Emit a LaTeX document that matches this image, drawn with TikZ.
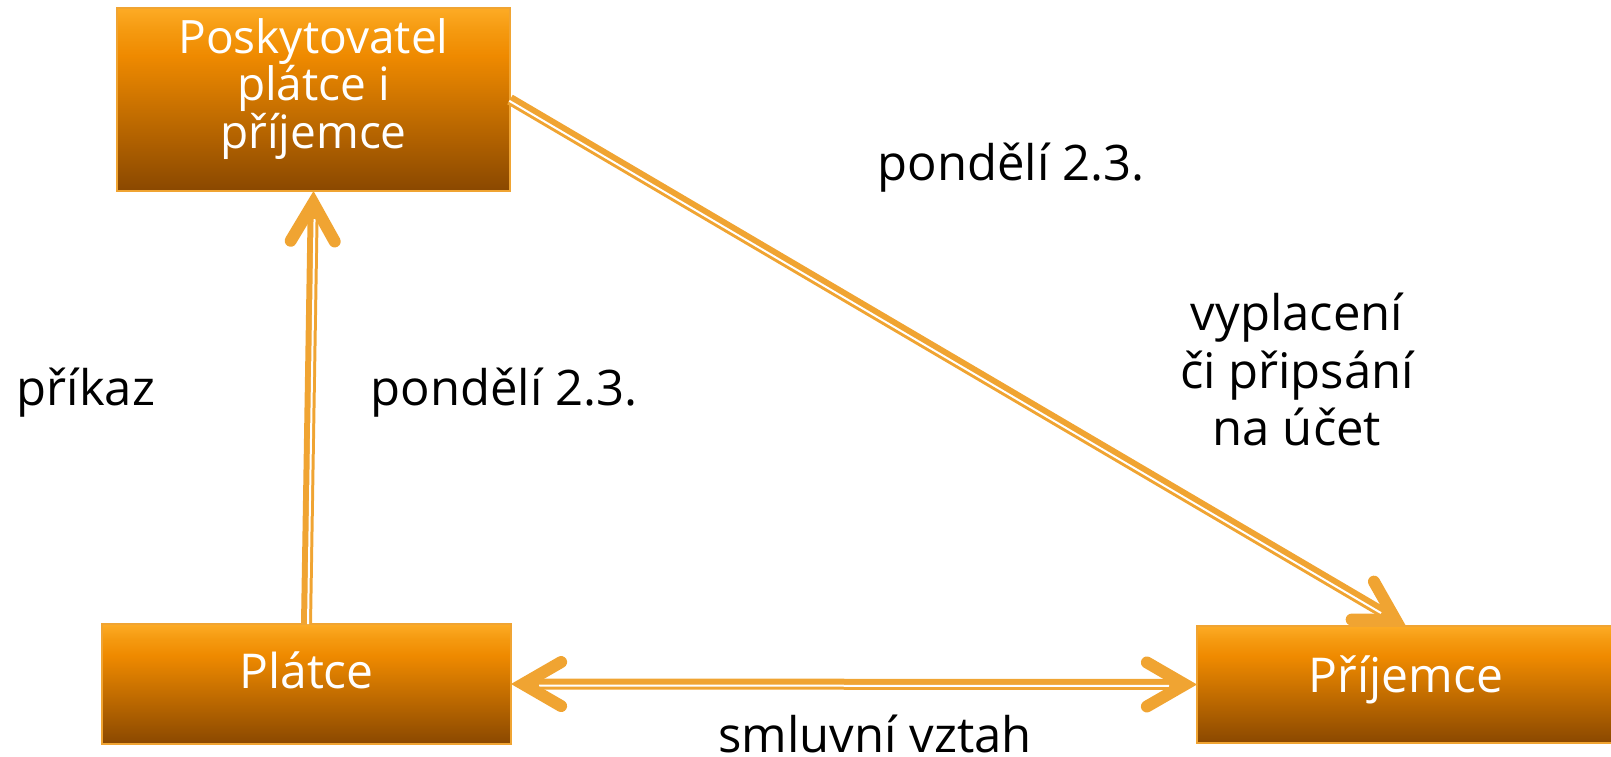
\documentclass[tikz,border=0pt]{standalone}
\usepackage{fontspec}
\setmainfont{Open Sans}
\usetikzlibrary{calc}
\definecolor{arrowc}{RGB}{240,164,50}
\definecolor{gtop}{RGB}{253,171,37}
\definecolor{gup}{RGB}{245,154,16}
\definecolor{gmid}{RGB}{239,138,0}
\definecolor{gbot}{RGB}{138,72,0}
\pgfdeclareverticalshading{boxshade}{100bp}{color(0bp)=(gbot); color(25bp)=(gbot); color(62bp)=(gmid); color(69bp)=(gup); color(75bp)=(gtop); color(100bp)=(gtop)}
\tikzset{
  box/.style={rectangle, draw=arrowc, line width=2pt, shading=boxshade, text=white, inner sep=0pt, outer sep=0pt},
  conn/.style={draw=arrowc, line width=11pt},
  gapline/.style={draw=white, line width=2pt},
  chev/.style={draw=arrowc, line width=12pt, line cap=round, line join=miter},
  lab/.style={text=black, inner sep=0pt, font=\fontsize{49}{57}\selectfont}
}
\begin{document}
\begin{tikzpicture}[x=1pt,y=-1pt]
\useasboundingbox (0,0) rectangle (1611,757);
\clip (0,0) rectangle (1611,757);
% boxes
\node[box, minimum width=393pt, minimum height=183pt, align=center,
      font=\fontsize{46}{42.5}\selectfont, text height=120pt, text depth=23pt]
      (pv) at (313.5,99.5) {Poskytovatel\\plátce i\\příjemce};
\node[box, minimum width=409pt, minimum height=120pt,
      font=\fontsize{48}{50}\selectfont, text height=30pt, text depth=22pt]
      (pl) at (306.5,684) {Plátce};
\node[box, minimum width=418pt, minimum height=117pt,
      font=\fontsize{48}{50}\selectfont, text height=30pt, text depth=15pt]
      (pr) at (1406,684.5) {Příjemce};
% labels
\node[lab, anchor=base] (l1) at (1011,180) {pondělí 2.3.};
\node[lab, anchor=base] (l2) at (86,405) {příkaz};
\node[lab, anchor=base] (l3) at (504,405) {pondělí 2.3.};
\node[lab, anchor=base] (l4) at (1297,330) {vyplacení};
\node[lab, anchor=base] (l5) at (1297,388) {či připsání};
\node[lab, anchor=base] (l6) at (1297,445) {na účet};
\node[lab, anchor=base] (l7) at (875,752) {smluvní vztah};
% vertical connector Plátce -> Poskytovatel
\draw[conn, shorten >=10pt] (pl.north) -- (pv.south);
\draw[gapline, shorten >=28pt] ($(pl.north)!1.5pt!-90:(pv.south)$) -- ($(pv.south)!1.5pt!90:(pl.north)$);
\coordinate (v1) at ($(pv.south)!12pt!(pl.north)$);
\draw[chev] ($(v1)!44pt!30:(pl.north)$) -- (v1) -- ($(v1)!44pt!-30:(pl.north)$);
% horizontal connector Plátce <-> Příjemce
\draw[conn, shorten <=10pt, shorten >=10pt] (pl.east) -- (pr.west);
\draw[gapline, shorten <=28pt, shorten >=28pt] ($(pl.east)!1.5pt!-90:(pr.west)$) -- ($(pr.west)!1.5pt!90:(pl.east)$);
\coordinate (h1) at ($(pr.west)!12pt!(pl.east)$);
\draw[chev] ($(h1)!44pt!30:(pl.east)$) -- (h1) -- ($(h1)!44pt!-30:(pl.east)$);
\coordinate (h2) at ($(pl.east)!12pt!(pr.west)$);
\draw[chev] ($(h2)!44pt!30:(pr.west)$) -- (h2) -- ($(h2)!44pt!-30:(pr.west)$);
% diagonal connector Poskytovatel -> Příjemce
\draw[conn, shorten >=10pt] (pv.east) -- (pr.north);
\draw[gapline, shorten >=28pt] ($(pv.east)!1.5pt!-90:(pr.north)$) -- ($(pr.north)!1.5pt!90:(pv.east)$);
\coordinate (d1) at ($(pr.north)!12pt!(pv.east)$);
\draw[chev] ($(d1)!44pt!30:(pv.east)$) -- (d1) -- ($(d1)!44pt!-30:(pv.east)$);
\end{tikzpicture}
\end{document}
